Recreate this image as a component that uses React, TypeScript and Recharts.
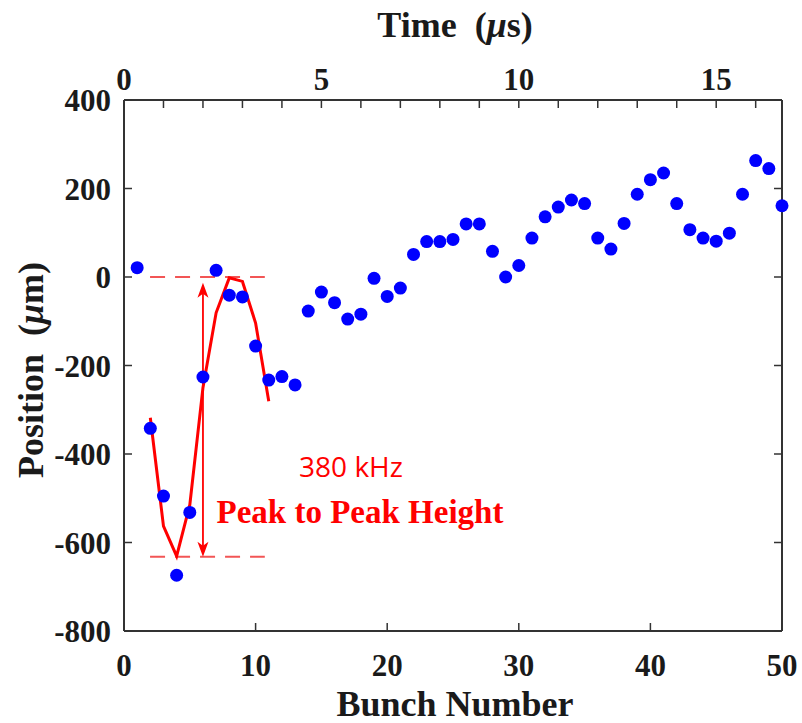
import React from 'react';
import {
  ComposedChart,
  Scatter,
  Line,
  XAxis,
  YAxis,
  ReferenceLine,
} from 'recharts';

// measured bunch positions (µm)
const bunches = [
  1, 2, 3, 4, 5, 6, 7, 8, 9, 10, 11, 12, 13, 14, 15, 16, 17, 18, 19, 20, 21, 22, 23, 24, 25,
  26, 27, 28, 29, 30, 31, 32, 33, 34, 35, 36, 37, 38, 39, 40, 41, 42, 43, 44, 45, 46, 47, 48, 49, 50,
];
const positions = [
  21, -342, -495, -674, -532, -226, 15, -41, -45, -156, -233, -225, -244, -77, -34, -58, -95, -84, -3, -44,
  -25, 51, 80, 80, 85, 120, 120, 58, 0, 26, 88, 136, 158, 174, 166, 88, 63, 121, 187, 220, 235, 166, 107,
  88, 81, 99, 187, 263, 245, 161,
];

// sine fit over the first oscillation
const fitBunches = [2, 3, 4, 5, 6, 7, 8, 9, 10, 11];
const fitPositions = [-318, -563, -631, -515, -250, -81, -2, -10, -104, -281];

// peak-to-peak markers
const peakLevels = [0, -632];
const peakSpan = [1.98, 10.7];
const arrowBunch = 6;
const arrowEnds = [-632, -13];

const bottomTicks = [0, 10, 20, 30, 40, 50];
const timeTicks = [0, 1, 2, 3, 4, 5, 6, 7, 8, 9, 10, 11, 12, 13, 14, 15, 16];
const yTicks = [-800, -600, -400, -200, 0, 200, 400];
const BUNCHES_PER_US = 3;

const scatterData = bunches.map((x, i) => ({ x, y: positions[i] }));
const fitData = fitBunches.map((x, i) => ({ x, y: fitPositions[i] }));
// top axis shares the bunch scale, ticks placed at each microsecond
const timeTickBunches = timeTicks.map((t) => t * BUNCHES_PER_US);

const W = 802;
const H = 723;
const FONT = '"Liberation Serif", "Times New Roman", serif';
const AXIS = '#333';
const TXT = '#1a1a1a';
const RED = '#ff0000';

const tickText = { fontFamily: FONT, fontWeight: 700, fontSize: 31, fill: TXT };

const BottomTick = (p: any) => (
  <g>
    <line x1={p.x} y1={p.y} x2={p.x} y2={p.y - 8} stroke={AXIS} strokeWidth={1.5} />
    <text x={p.x} y={p.y + 45} textAnchor="middle" style={tickText}>{p.payload.value}</text>
  </g>
);

const TopTick = (p: any) => {
  const t = Math.round(p.payload.value / BUNCHES_PER_US);
  return (
    <g>
      <line x1={p.x} y1={p.y} x2={p.x} y2={p.y + 8} stroke={AXIS} strokeWidth={1.5} />
      {t % 5 === 0 && (
        <text x={p.x} y={p.y - 10} textAnchor="middle" style={tickText}>{t}</text>
      )}
    </g>
  );
};

const LeftTick = (p: any) => (
  <g>
    <line x1={p.x} y1={p.y} x2={p.x + 8} y2={p.y} stroke={AXIS} strokeWidth={1.5} />
    <text x={p.x - 13} y={p.y + 11} textAnchor="end" style={tickText}>{p.payload.value}</text>
  </g>
);

const RightTick = (p: any) => (
  <line x1={p.x} y1={p.y} x2={p.x - 8} y2={p.y} stroke={AXIS} strokeWidth={1.5} />
);

const Dot = (p: any) => <circle cx={p.cx} cy={p.cy} r={6.5} fill="#0000ff" />;

const DoubleArrow = (p: any) => {
  const { x1, y1, x2, y2 } = p;
  const top = Math.min(y1, y2);
  const bot = Math.max(y1, y2);
  const x = x1;
  return (
    <g>
      <line x1={x} y1={top + 10} x2={x2} y2={bot - 10} stroke={RED} strokeWidth={1.8} />
      <polygon points={`${x},${top} ${x - 5.5},${top + 15} ${x},${top + 11} ${x + 5.5},${top + 15}`} fill={RED} />
      <polygon points={`${x},${bot} ${x - 5.5},${bot - 15} ${x},${bot - 11} ${x + 5.5},${bot - 15}`} fill={RED} />
    </g>
  );
};

export default function App() {
  return (
    <div style={{ position: 'absolute', left: 0, top: 0, width: W, height: H, background: '#fff' }}>
      <ComposedChart width={W} height={H} margin={{ top: 0, right: 0, bottom: 0, left: 0 }}>
        <XAxis
          xAxisId="bottom"
          type="number"
          dataKey="x"
          domain={[0, 50]}
          ticks={bottomTicks}
          interval={0}
          height={92}
          tickSize={0}
          tickMargin={0}
          tick={<BottomTick />}
          axisLine={{ stroke: AXIS, strokeWidth: 2 }}
          tickLine={false}
        />
        <XAxis
          xAxisId="top"
          orientation="top"
          type="number"
          dataKey="x"
          domain={[0, 50]}
          ticks={timeTickBunches}
          interval={0}
          height={100}
          tickSize={0}
          tickMargin={0}
          tick={<TopTick />}
          axisLine={{ stroke: AXIS, strokeWidth: 2 }}
          tickLine={false}
        />
        <YAxis
          yAxisId="left"
          type="number"
          domain={[-800, 400]}
          ticks={yTicks}
          interval={0}
          width={124}
          tickSize={0}
          tickMargin={0}
          tick={<LeftTick />}
          axisLine={{ stroke: AXIS, strokeWidth: 2 }}
          tickLine={false}
        />
        <YAxis
          yAxisId="right"
          orientation="right"
          type="number"
          domain={[-800, 400]}
          allowDataOverflow
          ticks={yTicks}
          interval={0}
          width={20}
          tickSize={0}
          tickMargin={0}
          tick={<RightTick />}
          axisLine={{ stroke: AXIS, strokeWidth: 2 }}
          tickLine={false}
        />
        {peakLevels.map((lv) => (
          <ReferenceLine
            key={lv}
            xAxisId="bottom"
            yAxisId="left"
            segment={[{ x: peakSpan[0], y: lv }, { x: peakSpan[1], y: lv }]}
            stroke="#f25555"
            strokeWidth={2}
            strokeDasharray="15 10"
            ifOverflow="visible"
          />
        ))}
        <ReferenceLine
          xAxisId="bottom"
          yAxisId="left"
          segment={[{ x: arrowBunch, y: arrowEnds[0] }, { x: arrowBunch, y: arrowEnds[1] }]}
          shape={DoubleArrow}
          ifOverflow="visible"
        />
        <Scatter
          xAxisId="top"
          yAxisId="left"
          data={scatterData}
          dataKey="y"
          shape={Dot}
          isAnimationActive={false}
        />
        <Line
          xAxisId="bottom"
          yAxisId="left"
          data={fitData}
          dataKey="y"
          type="linear"
          stroke={RED}
          strokeWidth={3}
          dot={false}
          activeDot={false}
          isAnimationActive={false}
        />
      </ComposedChart>
      <svg
        width={W}
        height={H}
        style={{ position: 'absolute', left: 0, top: 0, pointerEvents: 'none' }}
      >
        <text x={455} y={37} textAnchor="middle" style={{ fontFamily: FONT, fontWeight: 700, fontSize: 36, fill: TXT }}>
          Time{'\u00a0\u00a0'}(<tspan fontStyle="italic">μ</tspan>s)
        </text>
        <text x={455} y={716} textAnchor="middle" style={{ fontFamily: FONT, fontWeight: 700, fontSize: 36, fill: TXT }}>
          Bunch Number
        </text>
        <text
          transform="translate(43, 370) rotate(-90)"
          textAnchor="middle"
          style={{ fontFamily: FONT, fontWeight: 700, fontSize: 36, fill: TXT }}
        >
          Position{'\u00a0\u00a0'}(<tspan fontStyle="italic">μ</tspan>m)
        </text>
        <text x={351} y={477} textAnchor="middle" style={{ fontFamily: '"Open Sans", "Noto Sans", sans-serif', fontSize: 28, fill: RED }}>
          380 kHz
        </text>
        <text x={360} y={523} textAnchor="middle" style={{ fontFamily: FONT, fontWeight: 700, fontSize: 33, fill: RED }}>
          Peak to Peak Height
        </text>
      </svg>
    </div>
  );
}
